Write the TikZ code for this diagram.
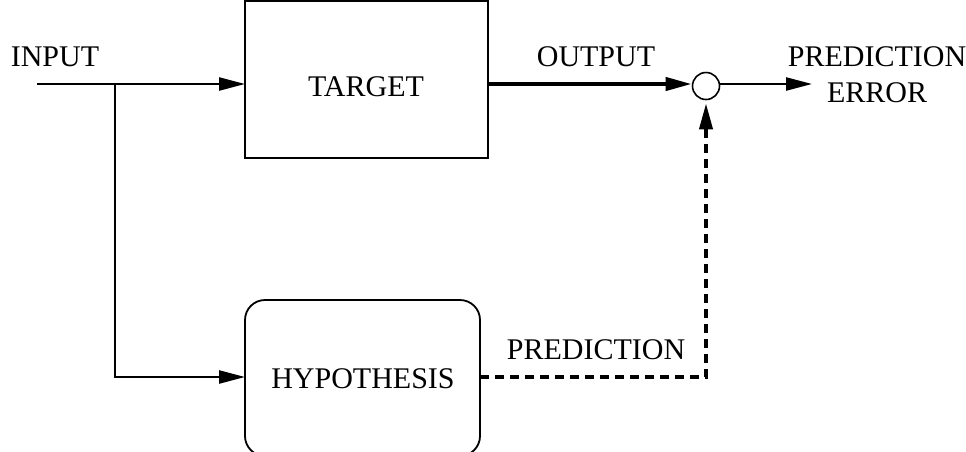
\documentclass[tikz,border=0pt]{standalone}
\usepackage{fontspec}
\setmainfont{Liberation Serif}
\usetikzlibrary{arrows.meta}
\begin{document}
\begin{tikzpicture}[x=1pt,y=-1pt,
  lbl/.style={font=\fontsize{30}{34}\selectfont, inner sep=0pt},
  boxline/.style={line width=1.8pt},
  wire/.style={line width=2.4pt},
  tip/.style={-{Triangle[length=26pt,width=13pt]}},
  heavy/.style={line width=4pt},
  dashline/.style={line width=3.8pt, dash pattern=on 9pt off 6pt}
]
\useasboundingbox (0,0) rectangle (966,451);
% blocks
\draw[boxline] (245,1) rectangle (488,158);
\node[lbl] (target) at (366,87) {TARGET};
\coordinate (tl) at (245,84);
\draw[boxline, rounded corners=20pt] (245,300) rectangle (480,456);
\node[lbl] (hyp) at (363,379) {HYPOTHESIS};
\coordinate (hl) at (245,377);
\coordinate (hr) at (480,377);
\coordinate (tr) at (488,84);
% summing junction
\node[circle, draw, line width=1.6pt, minimum size=27pt, inner sep=0pt] (sum) at (706,86) {};
% labels
\node[lbl] (in) at (55,57) {INPUT};
\node[lbl] (out) at (596,57) {OUTPUT};
\node[lbl] (pe1) at (877,57) {PREDICTION};
\node[lbl] (pe2) at (877,93) {ERROR};
\node[lbl] (pred) at (596,350) {PREDICTION};
% connectors
\coordinate (start) at (37,84);
\coordinate (br) at (115,84);
\coordinate (corner) at (706,377);
\coordinate (end) at (812,84);
\draw[wire, tip] (start) -- (tl);
\draw[wire, tip] (br) |- (hl);
\draw[heavy, tip] (tr) -- (sum.west |- tr);
\draw[wire, tip] (sum.east |- end) -- (end);
\draw[dashline] (hr) -- (corner) -- ([yshift=-20pt]sum.south);
\draw[line width=3.8pt, tip] ([yshift=-22pt]sum.south) -- ([yshift=-3pt]sum.south);
\end{tikzpicture}
\end{document}
